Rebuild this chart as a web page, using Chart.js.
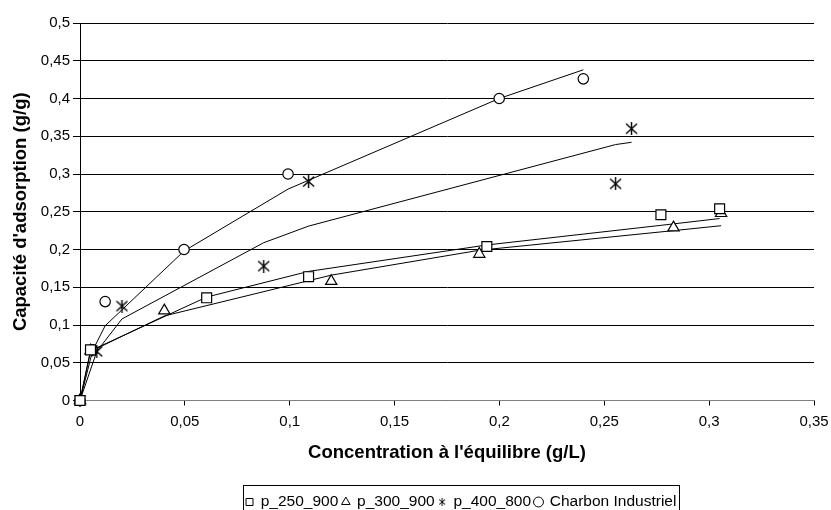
<!DOCTYPE html>
<html>
<head>
<meta charset="utf-8">
<script src="https://cdn.jsdelivr.net/npm/chart.js@4.4.1/dist/chart.umd.min.js"></script>
<style>
  html, body { margin: 0; padding: 0; background: #fff; }
  #wrap { width: 831px; height: 510px; }
</style>
</head>
<body>
<div id="wrap"><canvas id="chart" width="831" height="510"></canvas></div>
<script>
const p250X   = [0, 0.005, 0.0604, 0.109, 0.194, 0.277, 0.305];
const p250Y   = [0, 0.067, 0.136, 0.164, 0.204, 0.246, 0.254];
const p250Fit = [0, 0.066, 0.137, 0.171, 0.206, 0.232, 0.241];

const p300X   = [0, 0.005, 0.0402, 0.1198, 0.1904, 0.283, 0.3057];
const p300Y   = [0, 0.066, 0.119, 0.158, 0.194, 0.229, 0.248];
const p300Fit = [0, 0.065, 0.112, 0.166, 0.199, 0.225, 0.2315];

const p400X   = [0, 0.008, 0.02, 0.0876, 0.109, 0.2554, 0.263];
const p400Y   = [0, 0.065, 0.125, 0.178, 0.29, 0.287, 0.36];
const p400Fit = [0, 0.065, 0.108, 0.209, 0.231, 0.339, 0.342];

const charbonX   = [0, 0.006, 0.012, 0.0496, 0.0992, 0.1999, 0.24];
const charbonY   = [0, 0.067, 0.131, 0.2, 0.3, 0.4, 0.426];
const charbonFit = [0, 0.066, 0.099, 0.198, 0.28, 0.4, 0.438];

const seriesNames = ['p_250_900', 'p_300_900', 'p_400_800', 'Charbon Industriel'];
const xTickLabels = ['0', '0,05', '0,1', '0,15', '0,2', '0,25', '0,3', '0,35'];
const yTickLabels = ['0', '0,05', '0,1', '0,15', '0,2', '0,25', '0,3', '0,35', '0,4', '0,45', '0,5'];

const FONT = "'Liberation Sans', Arial, sans-serif";

// Excel-like star marker: an x crossed by a vertical bar
function makeStar(size, lw) {
    const c = document.createElement('canvas');
    c.width = size; c.height = size;
    const g = c.getContext('2d');
    g.strokeStyle = '#000';
    g.lineWidth = lw;
    const m = size / 2;
    g.beginPath();
    g.moveTo(1, 1.5); g.lineTo(size - 1, size - 1.5);
    g.moveTo(size - 1, 1.5); g.lineTo(1, size - 1.5);
    g.moveTo(m, 0); g.lineTo(m, size);
    g.stroke();
    return c;
}
const starBig = makeStar(13, 1.4);
const starSmall = makeStar(8, 1);

const pts = (xs, ys) => xs.map((x, i) => ({ x: x, y: ys[i] }));

const markerSet = (name, xs, ys, style, radius) => ({
    label: name,
    data: pts(xs, ys),
    showLine: false,
    clip: false,
    pointStyle: style,
    pointRadius: radius,
    pointHoverRadius: radius,
    pointBackgroundColor: '#fff',
    pointBorderColor: '#000',
    pointBorderWidth: 1.2,
    order: 0,
});

const fitSet = (name, xs, ys) => ({
    label: name + ' fit',
    isFit: true,
    data: pts(xs, ys),
    showLine: true,
    borderColor: '#000',
    borderWidth: 1,
    pointRadius: 0,
    pointHoverRadius: 0,
    tension: 0,
    order: 1,
});

// move the legend to where it sits in the picture, then frame it
const legendFrame = {
    id: 'legendFrame',
    afterUpdate(chart) {
        const lg = chart.legend;
        if (!lg || !lg.legendHitBoxes.length) return;
        const first = lg.legendHitBoxes[0];
        const dx = 246 - first.left;
        const dy = (502 - first.height / 2) - first.top;
        lg.left += dx; lg.right += dx;
        lg.top += dy; lg.bottom += dy;
        lg.legendHitBoxes.forEach(h => { h.left += dx; h.top += dy; });
    },
    afterDraw(chart) {
        const boxes = chart.legend && chart.legend.legendHitBoxes;
        if (!boxes || !boxes.length) return;
        let l = Infinity, r = -Infinity, t = Infinity;
        boxes.forEach(h => {
            l = Math.min(l, h.left); r = Math.max(r, h.left + h.width);
            t = Math.min(t, h.top);
        });
        const ctx = chart.ctx;
        ctx.save();
        ctx.strokeStyle = '#000';
        ctx.lineWidth = 1;
        ctx.strokeRect(Math.round(l - 3) + 0.5, Math.round(t - 9) + 0.5, Math.round(r - l + 6), 40);
        ctx.restore();
    }
};

const ctx = document.getElementById('chart').getContext('2d');
new Chart(ctx, {
    type: 'scatter',
    data: {
        datasets: [
            markerSet(seriesNames[0], p250X, p250Y, 'rect', 7),
            markerSet(seriesNames[1], p300X, p300Y, 'triangle', 6.5),
            markerSet(seriesNames[2], p400X, p400Y, starBig, 6),
            markerSet(seriesNames[3], charbonX, charbonY, 'circle', 5.2),
            fitSet(seriesNames[0], p250X, p250Fit),
            fitSet(seriesNames[1], p300X, p300Fit),
            fitSet(seriesNames[2], p400X, p400Fit),
            fitSet(seriesNames[3], charbonX, charbonFit),
        ],
    },
    options: {
        responsive: false,
        animation: false,
        devicePixelRatio: 1,
        layout: { padding: { left: 0, right: 17, top: 23, bottom: 0 } },
        plugins: {
            tooltip: { enabled: false },
            legend: {
                display: true,
                position: 'bottom',
                labels: {
                    color: '#000',
                    font: { family: FONT, size: 15.5 },
                    usePointStyle: true,
                    boxHeight: 7,
                    boxWidth: 7,
                    padding: 4,
                    filter: (item, data) => !data.datasets[item.datasetIndex].isFit,
                    generateLabels: (chart) => {
                        const items = Chart.defaults.plugins.legend.labels.generateLabels(chart);
                        items.forEach(it => {
                            if (it.pointStyle === starBig) it.pointStyle = starSmall;
                            it.fillStyle = '#fff';
                            it.strokeStyle = '#000';
                            it.lineWidth = 1;
                        });
                        return items;
                    },
                },
            },
        },
        scales: {
            x: {
                type: 'linear',
                min: 0,
                max: 0.35,
                afterFit: (scale) => {
                    scale.height = 80;
                    scale.paddingLeft = 0;
                    scale.paddingRight = 0;
                },
                ticks: {
                    stepSize: 0.05,
                    color: '#000',
                    font: { family: FONT, size: 15 },
                    padding: 7,
                    maxRotation: 0,
                    callback: (v, i) => xTickLabels[i],
                },
                grid: { drawOnChartArea: false, drawTicks: true, tickLength: 5, color: '#000' },
                border: { color: '#808080', width: 1 },
                title: {
                    display: true,
                    text: "Concentration à l'équilibre (g/L)",
                    color: '#000',
                    font: { family: FONT, size: 18.5, weight: 'bold' },
                    padding: { top: 16, bottom: 16 },
                },
            },
            y: {
                min: 0,
                max: 0.5,
                afterFit: (scale) => { scale.width = 80; },
                ticks: {
                    stepSize: 0.05,
                    color: '#000',
                    font: { family: FONT, size: 15 },
                    padding: 3,
                    callback: (v, i) => yTickLabels[i],
                },
                grid: { color: '#000', lineWidth: 1, drawTicks: true, tickLength: 7 },
                border: { color: '#000', width: 1 },
                title: {
                    display: true,
                    text: "Capacité d'adsorption (g/g)",
                    color: '#000',
                    font: { family: FONT, size: 18.5, weight: 'bold' },
                    padding: { top: 10, bottom: 10 },
                },
            },
        },
    },
    plugins: [legendFrame],
});
</script>
</body>
</html>
